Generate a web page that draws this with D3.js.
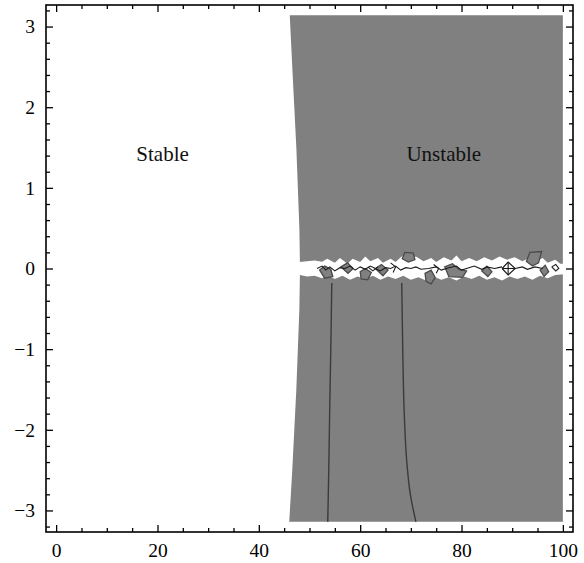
<!DOCTYPE html>
<html>
<head>
<meta charset="utf-8">
<script src="https://cdn.jsdelivr.net/npm/d3@7"></script>
<style>
  html, body { margin: 0; padding: 0; background: #fff; }
  svg { display: block; }
  text { font-family: "Liberation Serif", "DejaVu Serif", serif; }
</style>
</head>
<body>
<svg id="chart" width="584" height="563"></svg>
<script>
// ---------- data ----------
const xDomain = [-2, 102];
const yDomain = [-3.2673, 3.2673];
const xMajorTicks = [0, 20, 40, 60, 80, 100];
const xMinorTicks = [5, 10, 15, 25, 30, 35, 45, 50, 55, 65, 70, 75, 85, 90, 95];
const yMajorTicks = [-3, -2, -1, 0, 1, 2, 3];
const yMinorTicks = [-3.2, -2.8, -2.6, -2.4, -2.2, -1.8, -1.6, -1.4, -1.2, -0.8, -0.6, -0.4, -0.2,
                     0.2, 0.4, 0.6, 0.8, 1.2, 1.4, 1.6, 1.8, 2.2, 2.4, 2.6, 2.8, 3.2];

// left boundary of the unstable region (x as a function of y)
const boundaryY = [3.1416, 2.5, 2.0, 1.5, 1.0, 0.5, 0.1, -0.1, -0.5, -1.0, -1.5, -2.0, -2.5, -3.1416];
const boundaryX = [46.1, 46.6, 47.0, 47.4, 47.7, 48.0, 48.1, 48.1, 48.0, 47.7, 47.4, 47.0, 46.6, 46.0];
const rightX = 100;
const yTopVal = 3.1416, yBottomVal = -3.1416;

// white band around y = 0 (jagged edges)
const bandTop = [[46.5, 0.08], [48.1, 0.08], [49.5, 0.09], [51, 0.1], [52.5, 0.085], [53.5, 0.12], [55, 0.07],
  [56, 0.13], [57.5, 0.06], [58.5, 0.12], [60, 0.08], [61, 0.15], [62, 0.09], [63.5, 0.13], [64.5, 0.07],
  [66, 0.12], [67, 0.08], [68, 0.14], [69, 0.18], [70, 0.12], [71, 0.15], [72.5, 0.09], [74, 0.13], [75, 0.08],
  [76.5, 0.14], [78, 0.1], [79, 0.16], [80, 0.09], [81.5, 0.13], [83, 0.09], [84.5, 0.14], [86, 0.1],
  [87.5, 0.15], [89, 0.11], [90.5, 0.14], [92, 0.09], [93, 0.12], [94.5, 0.08], [96, 0.13], [97, 0.07],
  [98.5, 0.11], [99.5, 0.06], [100.2, 0.06]];
const bandBottom = [[46.5, -0.08], [48.1, -0.08], [49.5, -0.1], [51, -0.09], [52.5, -0.12], [53.5, -0.08],
  [55, -0.13], [56.5, -0.09], [58, -0.14], [59.5, -0.1], [61, -0.13], [62.5, -0.09], [64, -0.14], [65.5, -0.1],
  [67, -0.13], [68.5, -0.09], [70, -0.14], [71.5, -0.11], [73, -0.15], [74.5, -0.1], [76, -0.14], [77.5, -0.11],
  [79, -0.15], [80.5, -0.1], [82, -0.13], [83.5, -0.09], [85, -0.14], [86.5, -0.11], [88, -0.15], [89.5, -0.1],
  [91, -0.13], [92.5, -0.1], [94, -0.14], [95.5, -0.09], [97, -0.12], [98.5, -0.08], [100.2, -0.07]];

// grey patches inside / at the edge of the band
const patches = [
  [[52.0, -0.02], [53.0, 0.03], [54.2, -0.01], [54.6, -0.1], [53.0, -0.12]],
  [[56.2, 0.02], [57.5, 0.07], [58.6, 0.0], [57.6, -0.06]],
  [[60.0, -0.04], [61.0, 0.0], [62.2, -0.05], [61.5, -0.14], [60.2, -0.13]],
  [[63.0, 0.0], [64.2, 0.05], [65.5, -0.02], [64.5, -0.09]],
  [[68.3, 0.12], [68.8, 0.2], [70.5, 0.19], [70.8, 0.11], [69.5, 0.08]],
  [[72.8, -0.06], [74.0, -0.02], [74.8, -0.11], [74.0, -0.19], [73.0, -0.16]],
  [[76.7, 0.02], [78.2, 0.06], [79.5, -0.01], [81.0, -0.03], [80.2, -0.11], [77.5, -0.1]],
  [[84.0, -0.03], [85.0, 0.03], [86.0, -0.04], [85.2, -0.1]],
  [[92.8, 0.09], [93.5, 0.2], [95.8, 0.21], [95.2, 0.07], [94.0, 0.03]],
  [[95.5, -0.02], [96.5, 0.04], [97.2, -0.04], [96.3, -0.1]]
];

// dark contour scribbles inside the band
const scribbles = [
  [[51.5, 0.0], [52.5, 0.03], [53.2, -0.02], [54.0, 0.02], [55.0, -0.03], [56.0, 0.01], [57.0, 0.0]],
  [[57.0, 0.0], [58.0, 0.03], [59.0, -0.02], [60.0, 0.02], [61.0, -0.01], [62.0, 0.03], [63.0, 0.0],
   [64.0, -0.03], [65.0, 0.01], [66.0, 0.0], [67.0, 0.03], [68.0, -0.02], [69.0, 0.01], [70.0, 0.0],
   [71.0, 0.02], [72.0, -0.01], [73.5, 0.0], [75.0, 0.02], [76.0, -0.02], [77.5, 0.01], [79.0, 0.03],
   [80.0, -0.02], [81.0, 0.0], [82.5, 0.03], [84.0, -0.01], [85.0, 0.02], [86.5, 0.0], [88.0, 0.02]],
  [[88.0, 0.0], [89.2, 0.08], [90.6, 0.0], [89.2, -0.08], [88.0, 0.0]],
  [[88.0, 0.0], [90.6, 0.0]],
  [[89.2, 0.08], [89.2, -0.08]],
  [[90.6, 0.0], [92.0, 0.02], [93.0, -0.01], [94.5, 0.02], [96.0, 0.0]],
  [[97.8, 0.02], [98.6, 0.05], [99.2, 0.0], [98.6, -0.03], [97.8, 0.02]],
  [[61.5, 0.02], [62.5, -0.03], [63.5, 0.02]],
  [[66.0, 0.07], [67.0, 0.02], [66.5, -0.05]],
  [[74.5, 0.05], [75.5, 0.0], [75.0, -0.06]]
];

// two dark curves in the lower half
const curve1X = [54.4, 54.2, 54.0, 53.8, 53.6];
const curve1Y = [-0.18, -1.0, -1.7, -2.5, -3.1416];
const curve2X = [68.2, 68.4, 68.7, 69.2, 69.9, 71.0];
const curve2Y = [-0.18, -1.0, -1.8, -2.4, -2.8, -3.1416];

const regionLabels = ["Stable", "Unstable"];
const regionLabelX = [21, 76.5];
const regionLabelY = [1.33, 1.33];

// ---------- drawing ----------
const svg = d3.select("#chart");
const pLeft = 46, pRight = 573, pTop = 5, pBottom = 532;
const x = d3.scaleLinear().domain(xDomain).range([pLeft, pRight]);
const y = d3.scaleLinear().domain(yDomain).range([pBottom, pTop]);
const grey = "#808080";

// grey unstable region
const regionPts = boundaryY.map((v, i) => [boundaryX[i], v])
  .concat([[rightX, yBottomVal], [rightX, yTopVal]]);
const line = d3.line().x(d => x(d[0])).y(d => y(d[1]));
const closed = d3.line().x(d => x(d[0])).y(d => y(d[1])).curve(d3.curveLinearClosed);

svg.append("path").attr("d", closed(regionPts)).attr("fill", grey);

// white band
const bandPts = bandTop.concat(bandBottom.slice().reverse());
svg.append("path").attr("d", closed(bandPts)).attr("fill", "#fff");

// grey patches
svg.append("g").selectAll("path").data(patches).join("path")
  .attr("d", d => closed(d))
  .attr("fill", grey)
  .attr("stroke", "#4a4a4a")
  .attr("stroke-width", 1.3);

// scribbles
svg.append("g").selectAll("path").data(scribbles).join("path")
  .attr("d", d => line(d))
  .attr("fill", "none")
  .attr("stroke", "#1a1a1a")
  .attr("stroke-width", 1.1);

// curves
const c1 = curve1X.map((v, i) => [v, curve1Y[i]]);
const c2 = curve2X.map((v, i) => [v, curve2Y[i]]);
const smooth = d3.line().x(d => x(d[0])).y(d => y(d[1])).curve(d3.curveMonotoneY);
[c1, c2].forEach(c => {
  svg.append("path").attr("d", smooth(c)).attr("fill", "none")
    .attr("stroke", "#3a3a3a").attr("stroke-width", 1.4);
});

// region labels
svg.append("g").selectAll("text").data(regionLabels).join("text")
  .attr("x", (d, i) => x(regionLabelX[i]))
  .attr("y", (d, i) => y(regionLabelY[i]))
  .attr("text-anchor", "middle")
  .attr("font-size", 21)
  .attr("fill", "#111")
  .text(d => d);

// axes (frame ticks pointing inward)
function styleAxis(g) {
  g.select(".domain").remove();
  g.selectAll(".tick line").attr("stroke", "#000").attr("stroke-width", 1.3);
  g.selectAll(".tick text").attr("font-family", "Liberation Serif, DejaVu Serif, serif")
    .attr("font-size", 19.5).attr("fill", "#000");
}
const fmt = d3.format("d");
svg.append("g").attr("transform", `translate(0,${pBottom})`)
  .call(d3.axisBottom(x).tickValues(xMajorTicks).tickSize(-7).tickPadding(11).tickFormat(fmt)).call(styleAxis);
svg.append("g").attr("transform", `translate(0,${pBottom})`)
  .call(d3.axisBottom(x).tickValues(xMinorTicks).tickSize(-4).tickFormat("")).call(styleAxis);
svg.append("g").attr("transform", `translate(0,${pTop})`)
  .call(d3.axisTop(x).tickValues(xMajorTicks).tickSize(-7).tickFormat("")).call(styleAxis);
svg.append("g").attr("transform", `translate(0,${pTop})`)
  .call(d3.axisTop(x).tickValues(xMinorTicks).tickSize(-4).tickFormat("")).call(styleAxis);

svg.append("g").attr("transform", `translate(${pLeft},0)`)
  .call(d3.axisLeft(y).tickValues(yMajorTicks).tickSize(-7).tickPadding(11).tickFormat(fmt)).call(styleAxis);
svg.append("g").attr("transform", `translate(${pLeft},0)`)
  .call(d3.axisLeft(y).tickValues(yMinorTicks).tickSize(-4).tickFormat("")).call(styleAxis);
svg.append("g").attr("transform", `translate(${pRight},0)`)
  .call(d3.axisRight(y).tickValues(yMajorTicks).tickSize(-7).tickFormat("")).call(styleAxis);
svg.append("g").attr("transform", `translate(${pRight},0)`)
  .call(d3.axisRight(y).tickValues(yMinorTicks).tickSize(-4).tickFormat("")).call(styleAxis);

// frame
svg.append("rect").attr("x", pLeft).attr("y", pTop)
  .attr("width", pRight - pLeft).attr("height", pBottom - pTop)
  .attr("fill", "none").attr("stroke", "#000").attr("stroke-width", 1.6);
</script>
</body>
</html>
